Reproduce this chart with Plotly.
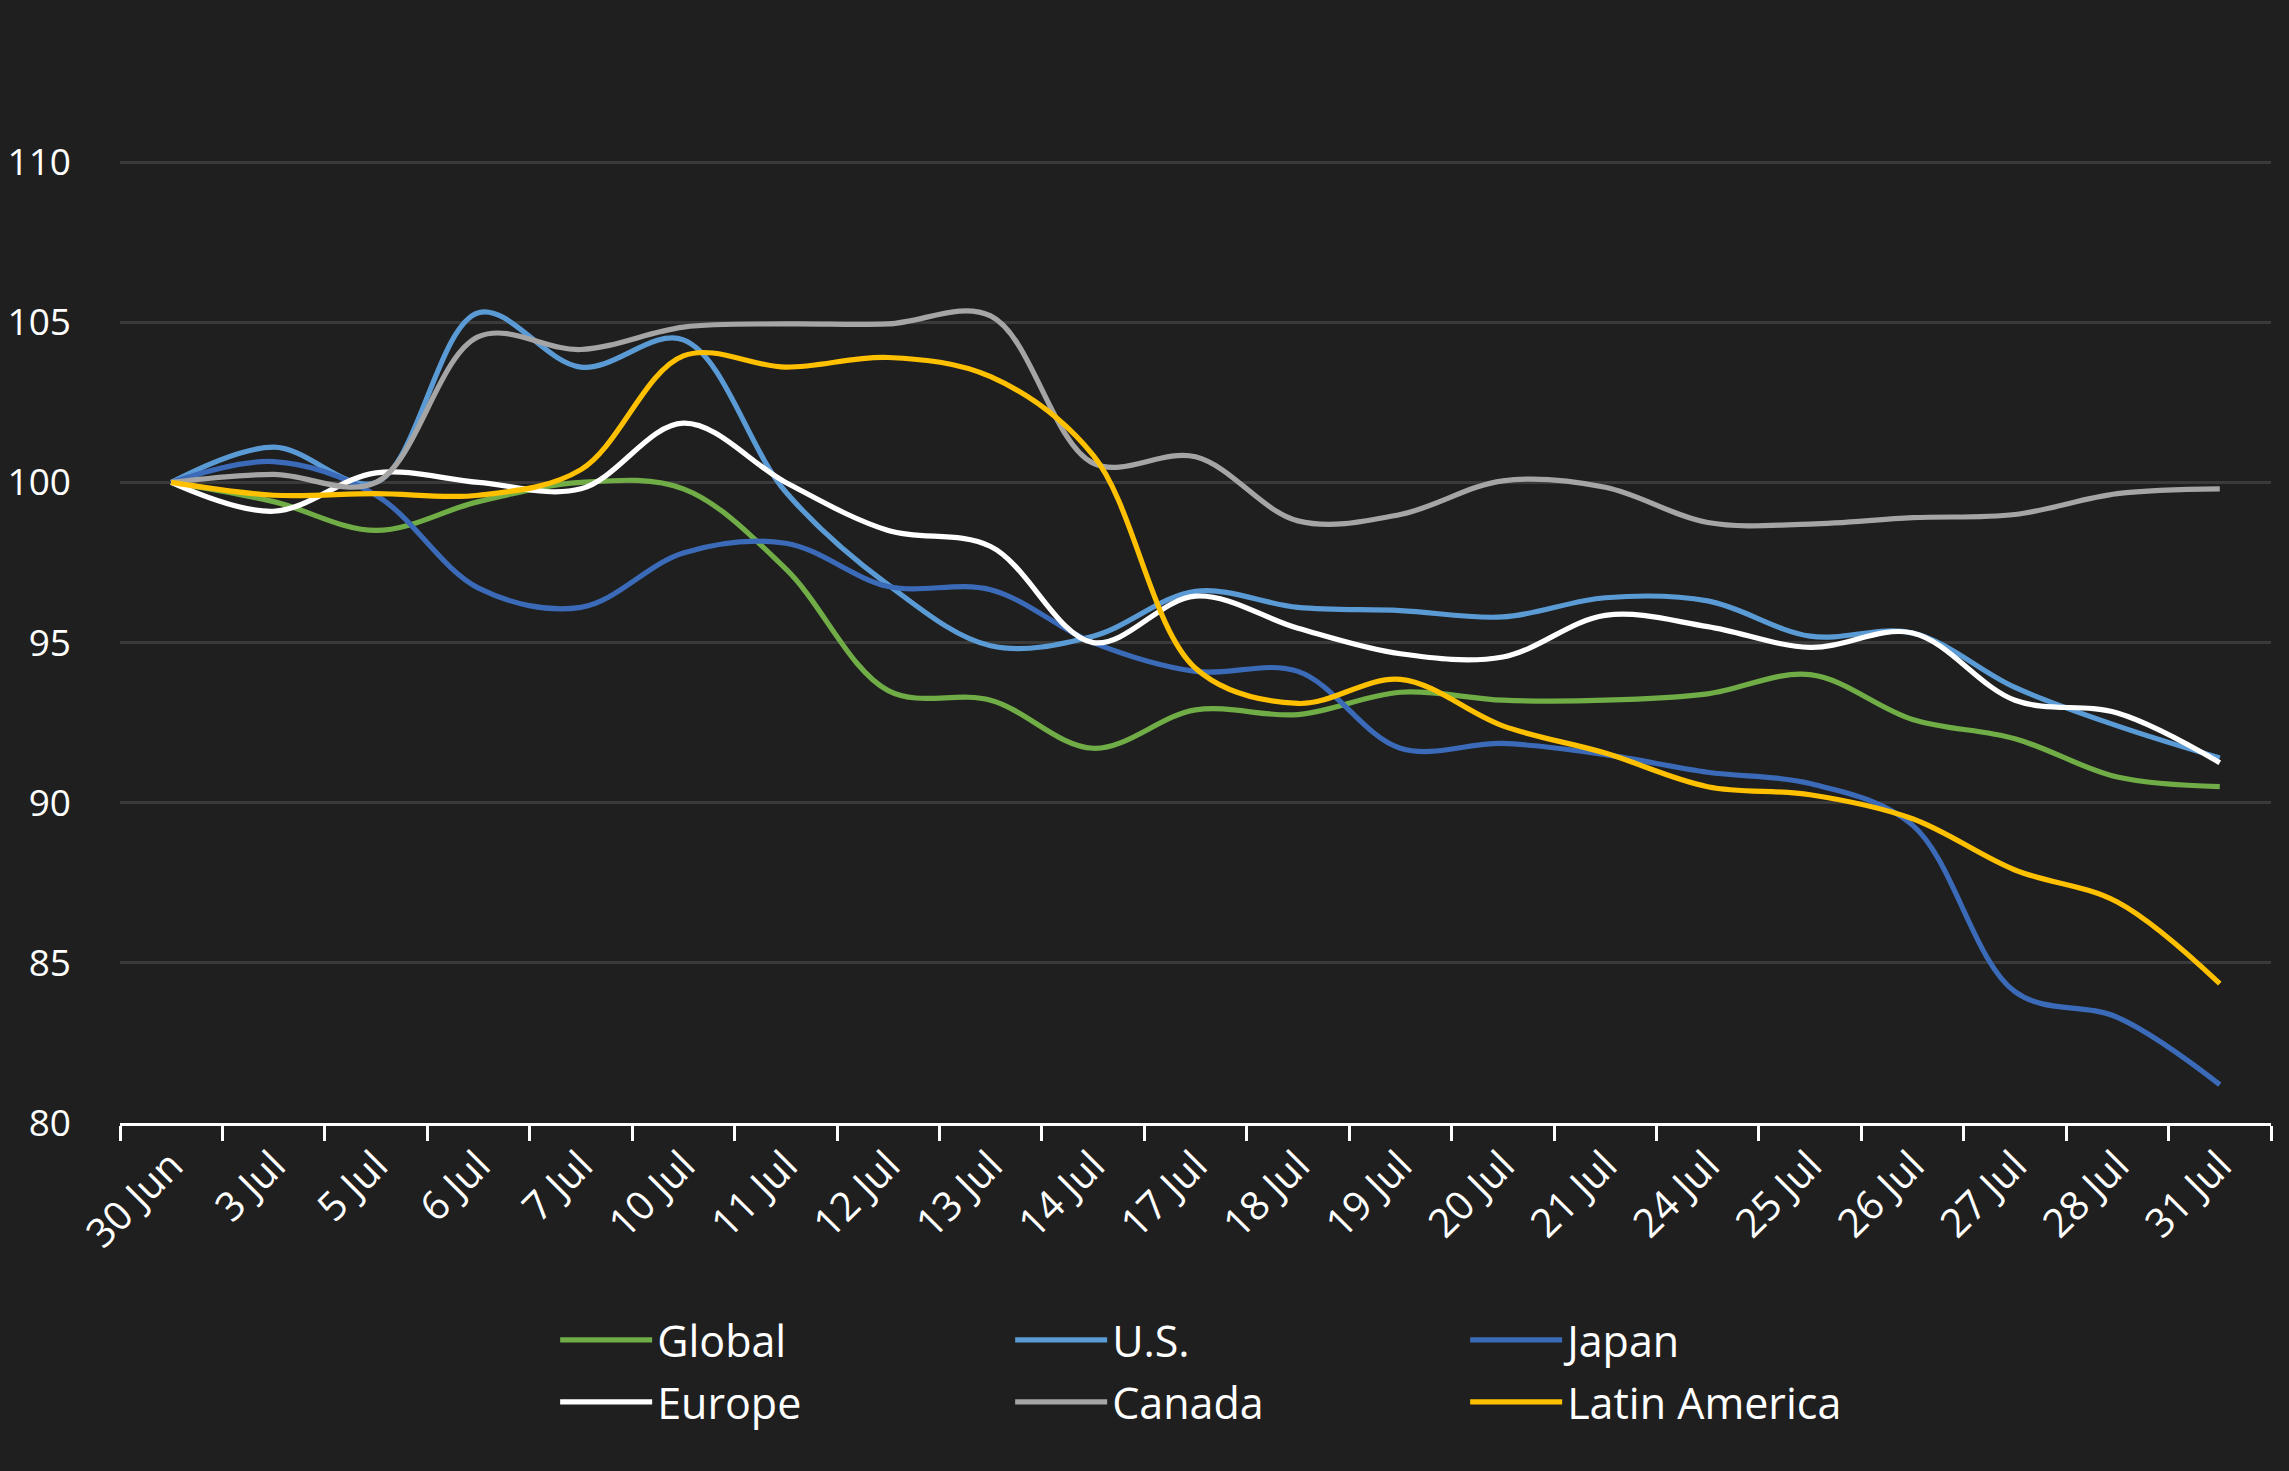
import plotly.graph_objects as go

dates = ["30 Jun", "3 Jul", "5 Jul", "6 Jul", "7 Jul", "10 Jul", "11 Jul", "12 Jul", "13 Jul", "14 Jul",
         "17 Jul", "18 Jul", "19 Jul", "20 Jul", "21 Jul", "24 Jul", "25 Jul", "26 Jul", "27 Jul", "28 Jul", "31 Jul"]

global_vals = [100, 99.4, 98.5, 99.4, 100.0, 99.8, 97.3, 93.5, 93.2, 91.7, 92.9, 92.75, 93.45, 93.2, 93.2,
               93.4, 94.0, 92.6, 92.0, 90.8, 90.5]
us_vals = [100, 101.1, 100.0, 105.3, 103.6, 104.45, 99.7, 96.8, 94.9, 95.2, 96.6, 96.1, 96.0, 95.8, 96.4,
           96.3, 95.2, 95.3, 93.6, 92.4, 91.4]
japan_vals = [100, 100.65, 99.6, 96.7, 96.1, 97.8, 98.1, 96.75, 96.65, 95.0, 94.1, 94.1, 91.7, 91.85, 91.5,
              90.95, 90.6, 89.3, 84.1, 83.3, 81.2]
europe_vals = [100, 99.1, 100.3, 100.0, 99.8, 101.85, 100.0, 98.5, 98.0, 95.0, 96.45, 95.45, 94.65, 94.55,
               95.85, 95.5, 94.85, 95.3, 93.2, 92.8, 91.25]
canada_vals = [100, 100.25, 100.0, 104.55, 104.15, 104.85, 104.95, 104.95, 105.2, 100.6, 100.8, 98.8, 99.0,
               100.05, 99.85, 98.75, 98.7, 98.9, 99.0, 99.65, 99.8]
latam_vals = [100, 99.6, 99.65, 99.6, 100.4, 103.95, 103.6, 103.9, 103.3, 100.85, 94.2, 93.1, 93.85, 92.4,
              91.55, 90.5, 90.25, 89.5, 87.9, 86.9, 84.35]

y_ticks = [80, 85, 90, 95, 100, 105, 110]

series = [
    ("Global", global_vals, "#70AD47", "legend"),
    ("U.S.", us_vals, "#5B9BD5", "legend"),
    ("Japan", japan_vals, "#3B6BB8", "legend"),
    ("Europe", europe_vals, "#FFFFFF", "legend2"),
    ("Canada", canada_vals, "#A5A5A5", "legend2"),
    ("Latin America", latam_vals, "#FFC000", "legend2"),
]

FONT = "Open Sans, Lato, sans-serif"
BG = "#1f1f1f"

fig = go.Figure()
for name, vals, color, lg in series:
    fig.add_trace(go.Scatter(
        x=dates, y=vals, name=name, mode="lines",
        line=dict(color=color, width=5.2, shape="spline", smoothing=1.0),
        legend=lg,
    ))

legend_common = dict(
    orientation="h", xanchor="left", yanchor="middle",
    font=dict(family=FONT, size=43, color="#ffffff"),
    bgcolor="rgba(0,0,0,0)", itemwidth=92, entrywidth=348,
    traceorder="normal",
)

fig.update_layout(
    width=2289, height=1471,
    paper_bgcolor=BG, plot_bgcolor=BG,
    margin=dict(l=120, r=18, t=2, b=348),
    font=dict(family=FONT, size=37, color="#ffffff"),
    showlegend=True,
    legend=dict(x=0.2023, y=-0.1935, **legend_common),
    legend2=dict(x=0.2023, y=-0.2488, **legend_common),
    xaxis=dict(
        type="category", range=[-0.5, 20.5],
        showgrid=False, showline=True, linecolor="#ffffff", linewidth=3,
        ticks="outside", tickson="boundaries", ticklen=15, tickwidth=2.5, tickcolor="#ffffff",
        tickangle=-45, tickfont=dict(family=FONT, size=40, color="#ffffff"),
        zeroline=False,
    ),
    yaxis=dict(
        range=[80, 115], tickvals=y_ticks, ticktext=[str(v) for v in y_ticks],
        showgrid=True, gridcolor="#3a3a3a", gridwidth=2.5,
        showline=False, zeroline=False, ticks="",
        ticklabelstandoff=48,
        tickfont=dict(family=FONT, size=37, color="#ffffff"),
    ),
)

fig.write_html(
    "out.html",
    config={"displayModeBar": False},
    post_script="document.body.style.margin='0';document.body.style.background='#1f1f1f';",
)
